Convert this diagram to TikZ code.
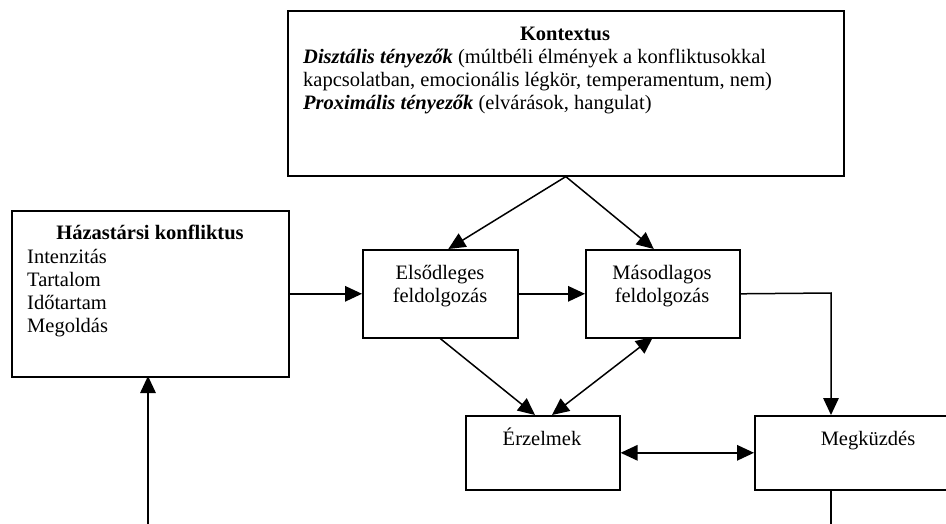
\documentclass[tikz,border=0pt]{standalone}
\usepackage{fontspec}
\setmainfont{Liberation Serif}
\usetikzlibrary{arrows.meta,calc}
\tikzset{
  box/.style={draw, line width=1.6pt, rectangle, inner sep=0pt, anchor=north west},
  lbl/.style={inner sep=0pt, anchor=base, font=\fontsize{20.5}{23}\selectfont},
  lbll/.style={lbl, anchor=base west},
  tip/.tip={Triangle[length=17pt,width=15.5pt]},
  conn/.style={line width=1.5pt, line join=miter, -tip},
  conn2/.style={line width=1.5pt, tip-tip},
  plain/.style={line width=1.5pt}
}
\begin{document}
\begin{tikzpicture}[x=1pt,y=-1pt]
\useasboundingbox (0,0) rectangle (946,523);
\clip (0,0) rectangle (946,523);
\fill[white] (0,0) rectangle (946,523);

% boxes
\node[box, minimum width=556pt, minimum height=165pt] (kontextus) at (287,10) {};
\node[box, minimum width=277pt, minimum height=166pt] (hazas) at (11,210) {};
\node[box, minimum width=155pt, minimum height=88pt] (elso) at (362,249) {};
\node[box, minimum width=154pt, minimum height=88pt] (maso) at (585,249) {};
\node[box, minimum width=154pt, minimum height=74pt] (erz) at (465,415) {};
\node[box, minimum width=228pt, minimum height=74pt] (megk) at (754,415) {};

% texts
\node[lbl] (t1) at (565,40) {\textbf{Kontextus}};
\node[lbll] (t2) at (303,63) {\textbf{\textit{Disztális tényezők}} (múltbéli élmények a konfliktusokkal};
\node[lbll] (t3) at (303,86) {kapcsolatban, emocionális légkör, temperamentum, nem)};
\node[lbll] (t4) at (303,109) {\textbf{\textit{Proximális tényezők}} (elvárások, hangulat)};

\node[lbl] (h1) at (150,239) {\textbf{Házastársi konfliktus}};
\node[lbll] (h2) at (27,263) {Intenzitás};
\node[lbll] (h3) at (27,286) {Tartalom};
\node[lbll] (h4) at (27,309) {Időtartam};
\node[lbll] (h5) at (27,332) {Megoldás};

\node[lbl] (e1) at (440,279) {Elsődleges};
\node[lbl] (e2) at (440,302) {feldolgozás};
\node[lbl] (m1) at (662,279) {Másodlagos};
\node[lbl] (m2) at (662,302) {feldolgozás};
\node[lbl] (z1) at (542,445) {Érzelmek};
\node[lbl] (g1) at (868,445) {Megküzdés};

% helper coordinates
\coordinate (elsoIn) at ($(elso.north)+(8,0)$);
\coordinate (masoIn) at ($(maso.north)+(-9,0)$);
\coordinate (corner) at (831,293);
\coordinate (megkIn) at (831,415);
\coordinate (megkOut) at (831,489);
\coordinate (bottomR) at (831,540);
\coordinate (bottomL) at (148,540);
\coordinate (hazasIn) at (148,376);
\coordinate (erzInA) at (535,415);
\coordinate (erzInB) at (552,415);
\coordinate (masoOut) at (653,337);

% connectors
\draw[conn] (kontextus.south) -- (elsoIn);
\draw[conn] (kontextus.south) -- (masoIn);
\draw[conn] (hazas.east) -- (elso.west);
\draw[conn] (elso.east) -- (maso.west);
\draw[conn] (maso.east) -- (corner) -- (megkIn);
\draw[conn] (elso.south) -- (erzInA);
\draw[conn2] (masoOut) -- (erzInB);
\draw[conn2] (erz.east) -- (megk.west);
\draw[plain] (megkOut) -- (bottomR);
\draw[conn] (bottomL) -- (hazasIn);
\end{tikzpicture}
\end{document}
